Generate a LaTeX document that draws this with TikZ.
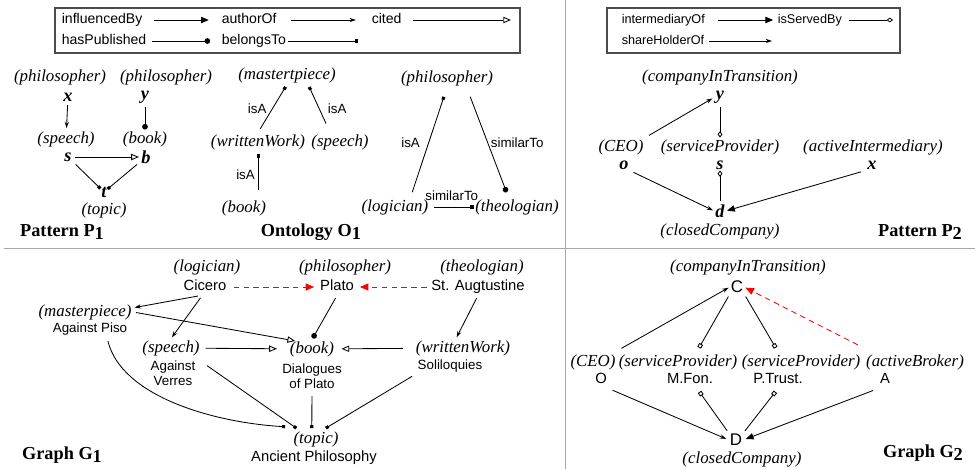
\documentclass[tikz,border=0pt]{standalone}
\usepackage{fontspec}
\setmainfont{Liberation Serif}
\setsansfont{Liberation Sans}
\usetikzlibrary{arrows.meta}

\newcommand{\lowsub}[1]{\raisebox{-0.35ex}{#1}}

\begin{document}
\begin{tikzpicture}[x=0.025cm, y=-0.025cm, inner sep=1pt, line width=0.6pt]

\tikzstyle{typelbl}=[font=\fontsize{12}{13}\selectfont\itshape]
\tikzstyle{namelbl}=[font=\fontsize{10.5}{12}\selectfont\sffamily, text height=7.5pt, text depth=2pt]
\tikzstyle{biglbl}=[font=\fontsize{12}{13}\selectfont\sffamily, inner sep=0.5pt]
\tikzstyle{worklbl}=[font=\fontsize{9.5}{11}\selectfont\sffamily, align=center]
\tikzstyle{varlbl}=[font=\fontsize{13}{13}\selectfont\bfseries\itshape, inner sep=0.5pt]
\tikzstyle{titlelbl}=[font=\fontsize{13}{13}\selectfont\bfseries]
\tikzstyle{keylbl}=[font=\fontsize{10}{11}\selectfont\sffamily, anchor=west, text height=7.5pt, text depth=2pt]
\tikzstyle{keylbl2}=[font=\fontsize{9}{10}\selectfont\sffamily, anchor=west, text height=7pt, text depth=2pt]
\tikzstyle{edgelbl}=[font=\fontsize{9.5}{10}\selectfont\sffamily]
\tikzstyle{influenced}=[-{Triangle[length=5.5pt,width=4.5pt]}]
\tikzstyle{author}=[-{Stealth[length=4.5pt,width=3pt]}]
\tikzstyle{cited}=[-{Triangle[open,length=5.5pt,width=4.5pt]}]
\tikzstyle{published}=[-{Circle[length=4pt]}]
\tikzstyle{belongs}=[-{Square[length=2.2pt]}]
\tikzstyle{served}=[-{Diamond[open,length=4.5pt,width=3.5pt]}]
\tikzstyle{servedbox}=[-{Square[open,length=3pt]}]
\tikzstyle{similar}=[red, dash pattern=on 4pt off 3pt, -{Triangle[length=6pt,width=5pt]}]

\useasboundingbox (0,0) rectangle (979,469);
\draw[black!35] (565,0) -- (565,469);
\draw[black!35] (4,248) -- (975,248);

% legends
\draw[black!70, line width=0.8pt] (55,8) rectangle (520,53);
\draw[black!70, line width=0.8pt] (607,8) rectangle (900,53);

\node (kInfl) [keylbl] at (60,20) {influencedBy};
\node (kAuth) [keylbl] at (220,20) {authorOf};
\node (kCited) [keylbl] at (370,20) {cited};
\coordinate (kCitedEnd) at (511,20);
\node (kPub) [keylbl] at (60,41) {hasPublished};
\node (kBel) [keylbl] at (220,41) {belongsTo};
\coordinate (kBelEnd) at (358,41);
\draw[influenced, shorten <=7pt, shorten >=8pt] (kInfl) -- (kAuth);
\draw[author, shorten <=9pt, shorten >=10pt] (kAuth) -- (kCited);
\draw[cited, shorten <=7pt] (kCited) -- (kCitedEnd);
\draw[published, shorten <=3pt, shorten >=7pt] (kPub) -- (kBel);
\draw[belongs] (kBel) -- (kBelEnd);

\node (kInter) [keylbl2] at (620,20) {intermediaryOf};
\node (kServ) [keylbl2] at (776,20) {isServedBy};
\coordinate (kServEnd) at (893,20);
\node (kShare) [keylbl2] at (620,41) {shareHolderOf};
\coordinate (kShareEnd) at (772,41);
\draw[influenced, shorten <=8pt, shorten >=2pt] (kInter) -- (kServ);
\draw[served, shorten <=4pt] (kServ) -- (kServEnd);
\draw[author, shorten <=2pt] (kShare) -- (kShareEnd);

% pattern P1
\node (p1xT) [typelbl] at (60,77) {(philosopher)};
\node (p1x) [varlbl] at (68,97) {x};
\node (p1yT) [typelbl] at (166,77) {(philosopher)};
\node (p1y) [varlbl] at (145,97) {y};
\node (p1sT) [typelbl] at (66,139) {(speech)};
\node (p1s) [varlbl] at (68,157) {s};
\node (p1bT) [typelbl] at (145,139) {(book)};
\node (p1b) [varlbl] at (146,157) {b};
\node (p1t) [varlbl] at (104,192) {t};
\node (p1tT) [typelbl] at (104,210) {(topic)};
\node (p1title) [titlelbl] at (62,232) {Pattern P\lowsub{1}};

\draw[author, shorten <=2pt, shorten >=1pt] (p1x) -- (p1sT);
\draw[published, shorten <=2pt] (p1y) -- (p1bT);
\draw[cited, shorten <=2pt, shorten >=1pt] (p1s) -- (p1b);
\draw[belongs, shorten <=3pt] (p1s) -- (p1t);
\draw[belongs, shorten <=3pt] (p1b) -- (p1t);

% ontology O1
\node (o1mp) [typelbl] at (287,75) {(mastertpiece)};
\node (o1ww) [typelbl] at (258,142) {(writtenWork)};
\node (o1sp) [typelbl] at (340,142) {(speech)};
\node (o1bk) [typelbl] at (244,208) {(book)};
\node (o1ph) [typelbl] at (447,78) {(philosopher)};
\node (o1lg) [typelbl] at (395,207) {(logician)};
\node (o1th) [typelbl] at (517,207) {(theologian)};
\node (o1title) [titlelbl] at (311,232) {Ontology O\lowsub{1}};

\draw[belongs, shorten <=3pt, shorten >=2pt] (o1ww.north) -- node[edgelbl, left=3pt] {isA} (o1mp.south);
\draw[belongs, shorten <=7pt, shorten >=2pt] ([xshift=-7pt]o1sp.north) -- node[edgelbl, right=5pt] {isA} ([xshift=15pt]o1mp.south);
\draw[belongs, shorten <=6pt, shorten >=2pt] ([xshift=10pt]o1bk.north) -- node[edgelbl, left=1pt] {isA} ([xshift=10pt]o1bk.north |- o1ww.south);
\draw[belongs, shorten <=4pt, shorten >=7pt] ([xshift=11pt]o1lg.north) -- node[edgelbl, left=5pt] {isA} (o1ph.south);
\draw[published, shorten <=7pt, shorten >=4pt] ([xshift=14pt]o1ph.south) -- node[edgelbl, right=1pt] {similarTo} ([xshift=-6pt]o1th.north);
\draw[belongs, shorten <=3pt] (o1lg) -- node[edgelbl, above=3pt] {similarTo} (o1th);

% pattern P2
\node (p2yT) [typelbl] at (720,77) {(companyInTransition)};
\node (p2y) [varlbl] at (720,97) {y};
\node (p2oT) [typelbl] at (621,147) {(CEO)};
\node (p2o) [varlbl] at (624,165) {o};
\node (p2sT) [typelbl] at (720,147) {(serviceProvider)};
\node (p2s) [varlbl] at (720,165) {s};
\node (p2xT) [typelbl] at (873,147) {(activeIntermediary)};
\node (p2x) [varlbl] at (872,165) {x};
\node (p2d) [varlbl] at (720,211) {d};
\node (p2dT) [typelbl] at (720,231) {(closedCompany)};
\node (p2title) [titlelbl] at (920,232) {Pattern P\lowsub{2}};

\draw[author, shorten <=3pt, shorten >=2pt] (p2oT.north east) -- (p2y.west);
\draw[author, shorten <=3pt, shorten >=1pt] (p2o.south east) -- (p2d.west);
\draw[influenced, shorten <=4pt, shorten >=1pt] (p2x.south west) -- (p2d.east);
\draw[served, shorten <=2pt] (p2y) -- (p2sT);
\draw[served, shorten <=2pt] (p2d) -- (p2s);

% graph G1
\node (g1logT) [typelbl] at (207,267) {(logician)};
\node (cicero) [namelbl] at (205,287) {Cicero};
\node (g1phT) [typelbl] at (345,267) {(philosopher)};
\node (plato) [namelbl] at (337,287) {Plato};
\node (g1thT) [typelbl] at (482,267) {(theologian)};
\node (augustine) [namelbl] at (478,287) {St. Augtustine};
\node (pisoT) [typelbl] at (85,312) {(masterpiece)};
\node (piso) [worklbl] at (90,329) {Against Piso};
\node (verresT) [typelbl] at (171,348) {(speech)};
\node (verres) [worklbl] at (173,373) {Against\\Verres};
\node (dialT) [typelbl] at (312,349) {(book)};
\node (dial) [worklbl] at (312,376) {Dialogues\\of Plato};
\node (soliT) [typelbl] at (463,348) {(writtenWork)};
\node (soli) [worklbl] at (450,366) {Soliloquies};
\node (topicT) [typelbl] at (316,439) {(topic)};
\node (topic) [namelbl] at (314,458) {Ancient Philosophy};
\node (g1title) [titlelbl] at (62,455) {Graph G\lowsub{1}};

\draw[similar, shorten <=4pt, shorten >=3pt] (cicero) -- (plato);
\draw[similar, shorten <=2pt, shorten >=3pt] (augustine) -- (plato);
\draw[author, shorten <=2pt, shorten >=1pt] ([xshift=-3pt]cicero.south) -- ([yshift=3pt]pisoT.east);
\draw[author, shorten <=2pt, shorten >=1pt] ([xshift=-2pt]cicero.south) -- (verresT.north);
\draw[cited, shorten <=2pt] (pisoT.east) -- ([xshift=5pt,yshift=-1pt]dialT.north west);
\draw[cited, shorten <=3pt, shorten >=8pt] (verresT) -- (dialT);
\draw[cited, shorten <=8pt, shorten >=4pt] (soliT) -- (dialT);
\draw[published, shorten <=2pt, shorten >=1pt] (plato.south) -- (dialT.north);
\draw[author, shorten <=2pt, shorten >=1pt] (augustine.south) -- ([xshift=-5pt]soliT.north);
\draw[belongs, shorten <=3pt] ([xshift=12pt]piso.south) .. controls +(15,60) and +(-70,-4) .. ([xshift=-22pt,yshift=2pt]topicT.north);
\draw[belongs] ([xshift=7pt,yshift=-5pt]verres.north east) -- ([xshift=-14pt,yshift=1pt]topicT.north);
\draw[belongs, shorten <=4pt] (dial.south) -- ([xshift=-3pt,yshift=1pt]topicT.north);
\draw[belongs, shorten <=3pt] (soli.south west) -- ([xshift=7pt,yshift=1pt]topicT.north);

% graph G2
\node (gCT) [typelbl] at (748,267) {(companyInTransition)};
\node (gC) [biglbl] at (737,287) {C};
\node (gOT) [typelbl] at (593,362) {(CEO)};
\node (gO) [namelbl] at (601,380) {O};
\node (gMT) [typelbl] at (678,362) {(serviceProvider)};
\node (gM) [namelbl] at (690,380) {M.Fon.};
\node (gPT) [typelbl] at (801,362) {(serviceProvider)};
\node (gP) [namelbl] at (778,380) {P.Trust.};
\node (gAT) [typelbl] at (915,362) {(activeBroker)};
\node (gA) [namelbl] at (885,380) {A};
\node (gD) [biglbl] at (736,440) {D};
\node (gDT) [typelbl] at (742,459) {(closedCompany)};
\node (g2title) [titlelbl] at (923,453) {Graph G\lowsub{2}};

\draw[author, shorten <=6pt, shorten >=1pt] ([xshift=15pt]gOT.north) -- (gC.west);
\draw[servedbox, shorten <=2pt, shorten >=4pt] (gC.south west) -- ([xshift=13pt]gMT.north);
\draw[servedbox, shorten <=2pt, shorten >=4pt] (gC.south east) -- ([xshift=-16pt]gPT.north);
\draw[similar, shorten <=12pt, shorten >=1pt] ([xshift=-30pt]gAT.north) -- (gC.east);
\draw[author, shorten <=3pt, shorten >=2pt] (gO.south east) -- (gD.west);
\draw[servedbox, shorten <=2pt, shorten >=3pt] (gD.north west) -- ([xshift=5pt]gM.south);
\draw[servedbox, shorten <=2pt, shorten >=3pt] (gD.north east) -- (gP.south);
\draw[influenced, shorten <=4pt, shorten >=2pt] (gA.south west) -- (gD.east);

\end{tikzpicture}
\end{document}
